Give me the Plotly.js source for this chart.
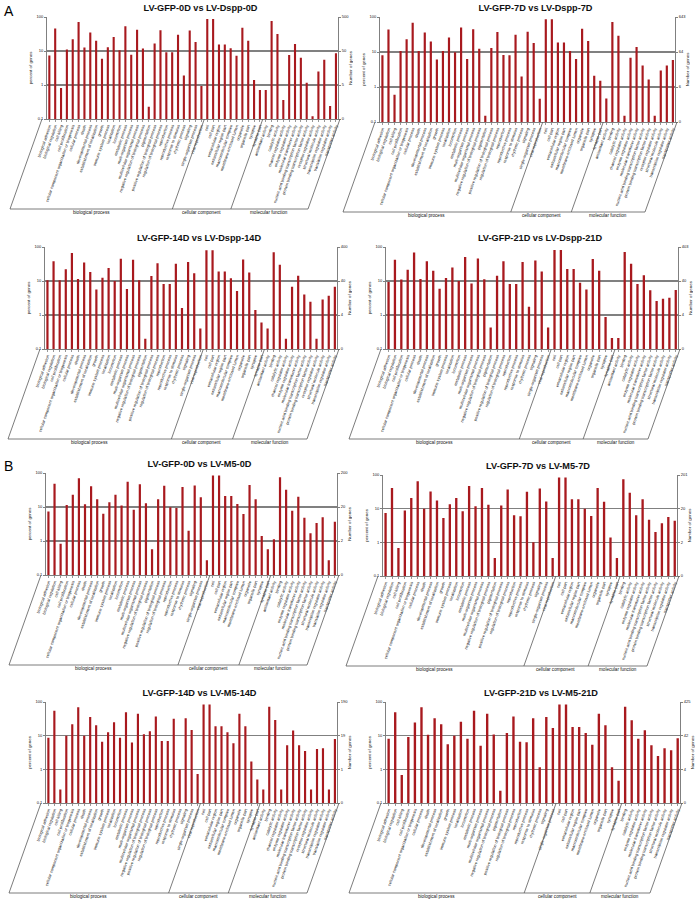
<!DOCTYPE html>
<html><head><meta charset="utf-8">
<script src="https://cdn.plot.ly/plotly-3.0.1.min.js"></script>
<style>
body{margin:0;background:#fff;width:695px;height:903px;position:relative;overflow:hidden;font-family:Arial,"Liberation Sans",sans-serif;}
.pn{position:absolute;}
.lab{position:absolute;font-size:14px;color:#000;}
</style></head><body>
<div class="lab" style="left:4px;top:3px;">A</div>
<div class="lab" style="left:4px;top:458px;">B</div>
<div id="p1" class="pn"></div><div id="p2" class="pn"></div>
<div id="p3" class="pn"></div><div id="p4" class="pn"></div>
<div id="p5" class="pn"></div><div id="p6" class="pn"></div>
<div id="p7" class="pn"></div><div id="p8" class="pn"></div>
<script>
// ---------- GO term names ----------
const bpAll = ["biological adhesion","biological regulation","cell killing","cell proliferation","cellular component organization or biogenesis","cellular process","death","developmental process","establishment of localization","growth","immune system process","localization","locomotion","metabolic process","multi-organism process","multicellular organismal process","negative regulation of biological process","pigmentation","positive regulation of biological process","regulation of biological process","reproduction","reproductive process","response to stimulus","rhythmic process","signaling","single-organism process","viral reproduction"];
const bpNoKilling = bpAll.filter(t => t !== "cell killing");
const bpNoPigment = bpAll.filter(t => t !== "pigmentation");
const bpNoViral = bpAll.filter(t => t !== "viral reproduction");
const ccTerms = ["cell","cell part","extracellular region","extracellular region part","macromolecular complex","membrane-enclosed lumen","organelle","organelle part","synapse","synapse part"];
const mfAll = ["antioxidant activity","binding","catalytic activity","channel regulator activity","enzyme regulator activity","molecular transducer activity","nucleic acid binding transcription factor activity","protein binding transcription factor activity","receptor regulator activity","structural molecule activity","transcription regulator activity","translation regulator activity","transporter activity"];
const mf12 = mfAll.filter(t => t !== "translation regulator activity");
const mf11 = mfAll.filter(t => t !== "channel regulator activity" && t !== "receptor regulator activity");
const mf10 = mf11.filter(t => t !== "translation regulator activity");
const mf9 = mf10.filter(t => t !== "antioxidant activity");

const groupNames = ["biological process","cellular component","molecular function"];

// ---------- panel titles ----------
const titles = ["LV-GFP-0D vs LV-Dspp-0D","LV-GFP-7D vs LV-Dspp-7D","LV-GFP-14D vs LV-Dspp-14D","LV-GFP-21D vs LV-Dspp-21D",
                "LV-GFP-0D vs LV-M5-0D","LV-GFP-7D vs LV-M5-7D","LV-GFP-14D vs LV-M5-14D","LV-GFP-21D vs LV-M5-21D"];

// ---------- percent of genes ----------
const v1bp = [7.4,46,0.82,11,22,71,12.6,35,20,5.9,13,26,10.5,53,7.7,42,11.8,0.23,16.5,41,9.2,9.2,30,1.9,40,18.5,0.93];
const v1cc = [87,87,15.5,15.5,12,7.2,48,20,1.4,0.71];
const v1mf = [0.71,76,31.6,0.36,7.6,16,6.3,1.17,0.12,2.5,5.5,0.24,8.6];

const v2bp = [8.1,44,0.6,10.7,23,69,10.7,36,20,6.1,10.7,26,9.8,50,6.3,45,12.4,0.15,13,37,8.2,8.1,31,2,38,18,0.46];
const v2cc = [86,86,18.7,18.7,10.7,6.3,46,20.5,2.1,1.5];
const v2mf = [0.47,72,29,0.15,6.9,14,4.1,1.65,0.15,2.95,4.1,5.9];

const v3bp = [10.5,38,10.5,22,67,11.4,35,18.3,5.6,12.5,24,10,45,5.8,42,10.5,0.2,14,33,8.2,8.2,32,1.6,36,17,0.4];
const v3cc = [80,80,19,19,12,5.1,43,17.8,1.4,0.6];
const v3mf = [0.4,70,30,0.2,6.8,14.3,4,2.45,0.2,2.85,3.7,6.8];

const v4bp = [9.3,42,11,21.5,69,11.4,38,20,5.9,12.3,25,10,51,8.5,46,11.2,0.43,14.3,38,8.2,8.2,36,1.75,40,19,0.43];
const v4cc = [81,81,22.5,22.5,8.9,5.6,44,20,0.87,0.21];
const v4mf = [0.21,71,32,8.2,14.7,5.3,2.6,3,3.2,5.4];

const v5bp = [7.4,48,0.83,11.5,23,70,12,41,17,6.3,13.7,23,11,55,8.3,47,13,0.57,17,42,9.8,9.3,39,2,43,19.4,0.27];
const v5cc = [85,85,21,21,12.3,6.2,44,17,1.4,0.57];
const v5mf = [1.12,75,32,7.8,20,4.8,1.7,3.4,5,0.27,3.7];

const v6bp = [7.4,41,0.68,8.8,20.6,65,9.9,32.6,17.5,5.3,13.6,20.6,8.4,47,11.8,41,13,0.34,12.4,37,6.4,6,32,1.0,40,16.3,0.34];
const v6cc = [85,85,19.2,19.2,10,6.1,41,16,1.38,0.34];
const v6mf = [75,29.7,6.4,19.2,4.7,2.03,3.7,5.7,4.4];

const v7bp = [8.6,55,0.25,10,22,70,10,36,20.4,6.6,12.7,25,8.6,50,6.3,45,11,13.5,37,6.9,6.9,32,1.0,33,14.8,0.73];
const v7cc = [85,85,19,19,12.7,6,45,19,1.7,0.5];
const v7mf = [0.25,72,29,0.25,5.2,14.2,5.2,3.5,0.25,4,4.2,0.25,7.9];

const v8bp = [8.1,50,0.68,9.1,24.5,70,10.6,33,21.9,5.6,9.9,26,8.1,55,5,45,10.8,0.23,11.9,37,6.6,6.4,33,1.15,36,17];
const v8cc = [85,85,18.2,18,12.1,5.4,45,20.4,1.15,0.46];
const v8mf = [72,28.7,8.1,14.5,5.2,2.5,4.2,3.7,8.4];

// ---------- axis tick labels ----------
const leftTickVals = [0.1,1,10,100];
const leftTickText = ["0.1","1","10","100"];
const rightTick1 = ["0","5","50","500"];
const rightTick2 = ["0","6","64","643"];
const rightTick3 = ["0","4","40","400"];
const rightTick4 = ["0","4","40","403"];
const rightTick5 = ["0","2","20","200"];
const rightTick6 = ["0","2","20","201"];
const rightTick7 = ["0","1","19","190"];
const rightTick8 = ["0","4","42","425"];

// ---------- panel assembly ----------
const panels = [
 {id:"p1", title:titles[0], bp:bpAll,       cc:ccTerms, mf:mfAll, vals:[v1bp,v1cc,v1mf], rt:rightTick1, L:47,  R:338, T:17,  B:119},
 {id:"p2", title:titles[1], bp:bpAll,       cc:ccTerms, mf:mf12,  vals:[v2bp,v2cc,v2mf], rt:rightTick2, L:380, R:675, T:17,  B:122},
 {id:"p3", title:titles[2], bp:bpNoKilling, cc:ccTerms, mf:mf12,  vals:[v3bp,v3cc,v3mf], rt:rightTick3, L:45,  R:337, T:247, B:349},
 {id:"p4", title:titles[3], bp:bpNoKilling, cc:ccTerms, mf:mf10,  vals:[v4bp,v4cc,v4mf], rt:rightTick4, L:386, R:678, T:247, B:349},
 {id:"p5", title:titles[4], bp:bpAll,       cc:ccTerms, mf:mf11,  vals:[v5bp,v5cc,v5mf], rt:rightTick5, L:46,  R:337, T:473, B:575},
 {id:"p6", title:titles[5], bp:bpAll,       cc:ccTerms, mf:mf9,   vals:[v6bp,v6cc,v6mf], rt:rightTick6, L:383, R:677, T:475, B:576},
 {id:"p7", title:titles[6], bp:bpNoPigment, cc:ccTerms, mf:mfAll, vals:[v7bp,v7cc,v7mf], rt:rightTick7, L:46,  R:337, T:702, B:803},
 {id:"p8", title:titles[7], bp:bpNoViral,   cc:ccTerms, mf:mf9,   vals:[v8bp,v8cc,v8mf], rt:rightTick8, L:386, R:680, T:702, B:803}
];

const ML = 47, MR = 15, MT = 17, MB = 100;
const SLANT = 32, BOXDROP = 90, LINEC = "#5a5a5a", GRIDC = "#808080";
const FONT = "Arial, 'Liberation Sans', sans-serif";

panels.forEach(p => {
  const cats = p.bp.concat(p.cc, p.mf);
  const vals = p.vals[0].concat(p.vals[1], p.vals[2]);
  const n = cats.length;
  const pw = p.R - p.L, ph = p.B - p.T;
  const W = pw + ML + MR, H = ph + MT + MB;
  const el = document.getElementById(p.id);
  el.style.left = (p.L - ML) + "px";
  el.style.top = (p.T - MT) + "px";
  el.style.width = W + "px"; el.style.height = H + "px";

  const r0 = -0.4, r1 = n - 0.65;
  const fx = i => (i - r0) / (r1 - r0);
  const dx = SLANT / pw, dy = -BOXDROP / ph;
  const xl = -5 / pw, xr = 1 + 2 / pw;
  const b1 = fx(p.bp.length - 0.5), b2 = fx(p.bp.length + p.cc.length - 0.5);
  const ln = (x0,y0,x1,y1) => ({type:"line", xref:"paper", yref:"paper", x0, y0, x1, y1, line:{color:LINEC, width:0.8}});
  const shapes = [
    ln(xl,0,xl-dx,dy), ln(b1,0,b1-dx,dy), ln(b2,0,b2-dx,dy), ln(xr,0,xr-dx,dy), ln(xl-dx,dy,xr-dx,dy)
  ];
  const gx = [(xl+b1)/2 - dx, (b1+b2)/2 - dx, (b2+xr)/2 - dx];
  const annotations = groupNames.map((g,k) => ({
    text:g, xref:"paper", yref:"paper", x:gx[k], y:dy - 3.6/ph, yanchor:"middle", xanchor:"center",
    showarrow:false, font:{size:4.6, color:"#111", family:FONT}
  }));

  const trace = {type:"bar", x:cats, y:vals, marker:{color:"#A8191E", line:{width:0}}, hoverinfo:"x+y"};
  const dummy = {type:"scatter", x:[], y:[], yaxis:"y2", showlegend:false};

  const layout = {
    width:W, height:H, margin:{l:ML, r:MR, t:MT, b:MB, pad:0},
    paper_bgcolor:"rgba(0,0,0,0)", plot_bgcolor:"#fff", showlegend:false, bargap:0.64,
    font:{family:FONT, color:"#111"},
    title:{text:"<b>"+p.title+"</b>", x:0.5 + 8/W + (ML-MR)/(2*W), xref:"container", xanchor:"center",
           y:1 - 8/H, yref:"container", yanchor:"middle", font:{size:9.2, color:"#111", family:FONT}},
    xaxis:{type:"category", range:[r0,r1], tickmode:"array", tickvals:cats, ticktext:cats, tickangle:-71,
           tickfont:{size:4, color:"#000"}, showline:true, linecolor:GRIDC, linewidth:1, ticks:"outside",
           ticklen:2, tickcolor:"#999", showgrid:false, zeroline:false, automargin:false, fixedrange:true},
    yaxis:{type:"log", range:[-1,2], tickmode:"array", tickvals:leftTickVals, ticktext:leftTickText,
           tickfont:{size:4, color:"#111"}, showgrid:true, gridcolor:GRIDC, gridwidth:1.4, showline:true,
           linecolor:GRIDC, linewidth:1, mirror:true, ticks:"outside", ticklen:2, tickcolor:GRIDC, zeroline:false,
           title:{text:"percent of genes", font:{size:4.4, color:"#111"}, standoff:3}, automargin:false, fixedrange:true},
    yaxis2:{type:"log", range:[-1,2], overlaying:"y", side:"right", tickmode:"array", tickvals:leftTickVals,
            ticktext:p.rt, tickfont:{size:4, color:"#111"}, showgrid:false, showline:false, zeroline:false,
            ticks:"outside", ticklen:2, tickcolor:GRIDC,
            title:{text:"Number of genes", font:{size:4.4, color:"#111"}, standoff:3}, automargin:false, fixedrange:true},
    shapes, annotations
  };
  Plotly.newPlot(el, [trace, dummy], layout, {staticPlot:true, displayModeBar:false});
});
</script>
</body></html>
